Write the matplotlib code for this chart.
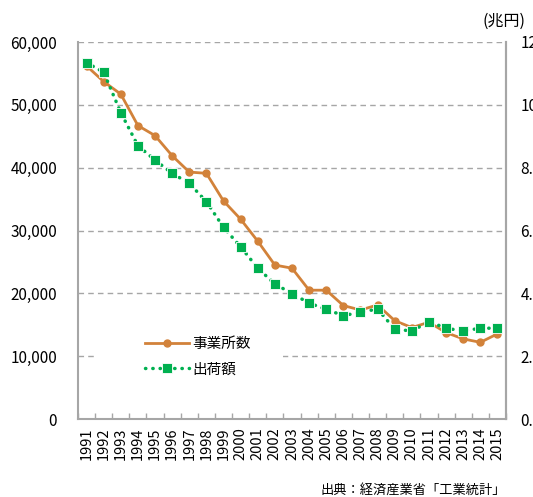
import matplotlib
matplotlib.use('Agg')
import matplotlib.pyplot as plt
from matplotlib.patches import Rectangle
from matplotlib.lines import Line2D
import numpy as np

plt.rcParams['font.family'] = ['Noto Sans CJK JP', 'DejaVu Sans']

years = [str(y) for y in range(1991, 2016)]
# 事業所数 (left axis)
jigyosho = [56200, 53700, 51700, 46700, 45100, 41900, 39300, 39100, 34700, 31800,
            28300, 24500, 24000, 20500, 20500, 18050, 17350, 18150, 15650, 14550,
            15400, 13750, 12750, 12200, 13550]
# 出荷額 (right axis, 兆円)
shukka = [11.34, 11.04, 9.75, 8.70, 8.24, 7.82, 7.50, 6.92, 6.10, 5.48,
          4.80, 4.30, 3.99, 3.69, 3.49, 3.29, 3.40, 3.50, 2.86, 2.80,
          3.10, 2.89, 2.80, 2.89, 2.89]

orange = '#D2823A'
green = '#00B050'
gray = '#A6A6A6'

fig = plt.figure(figsize=(5.33, 4.97), dpi=100)
ax = fig.add_axes([78/533, 78/497, 428/533, 377/497])
ax2 = ax.twinx()

x = np.arange(len(years))

ax.set_xlim(-0.5, len(years) - 0.5)
ax.set_ylim(0, 60000)
ax.set_yticks(np.arange(0, 60001, 10000))
ax.set_yticklabels([f'{v:,}' for v in range(0, 60001, 10000)], fontsize=11)
ax.tick_params(axis='y', length=0, pad=15)
ax.yaxis.grid(True, ls=(0, (4, 3)), color=gray, lw=1)
ax.set_axisbelow(True)

ax.set_xticks(x)
ax.set_xticklabels(years, rotation=90, fontsize=10.5)
ax.tick_params(axis='x', which='major', length=0, pad=6)
ax.set_xticks(np.arange(-0.5, len(years)), minor=True)
ax.tick_params(axis='x', which='minor', direction='in', length=4, color=gray, width=1)

for s in ['left', 'bottom', 'right']:
    ax.spines[s].set_color(gray)
    ax.spines[s].set_linewidth(1.5)
ax.spines['top'].set_visible(False)
for s in ['left', 'bottom', 'top']:
    ax2.spines[s].set_visible(False)
ax2.spines['right'].set_color(gray)
ax2.spines['right'].set_linewidth(1.5)

ax2.set_ylim(0, 12)
ax2.set_yticks(np.arange(0, 13, 2))
ax2.set_yticklabels([f'{v:.1f}' for v in range(0, 13, 2)], fontsize=11)
ax2.tick_params(axis='y', length=0, pad=10.5)

# white box behind legend (hides the grid line)
ax.add_patch(Rectangle((19/428, 30/377), 186/428, 52/377, transform=ax.transAxes,
                       facecolor='white', edgecolor='none', zorder=1.5))

ax.plot(x, jigyosho, color=orange, lw=2, marker='o', ms=5, zorder=3)
ax2.plot(x, shukka, color=green, lw=2.5, ls=(0, (0.1, 2)), dash_capstyle='round',
         marker='s', ms=6.5, mec='white', mew=0.6, zorder=3)

h1 = Line2D([], [], color=orange, lw=2, marker='o', ms=5)
h2 = Line2D([], [], color=green, lw=2.5, ls=(0, (0.1, 2)), dash_capstyle='round',
            marker='s', ms=6.5, mec='white', mew=0.6)
ax2.legend([h1, h2], ['事業所数', '出荷額'], loc='upper left',
           bbox_to_anchor=(60/428, 89/377), frameon=False, fontsize=10.5,
           handlelength=3, handletextpad=0.2, labelspacing=0.75, borderpad=0)

fig.text(483/533, 1 - 21/497, '(兆円)', fontsize=11.5, ha='left', va='center')
fig.text(506/533, 1 - 490/497, '出典：経済産業省「工業統計」', fontsize=9.5, ha='right', va='center')

fig.savefig('out.png', dpi=100)
